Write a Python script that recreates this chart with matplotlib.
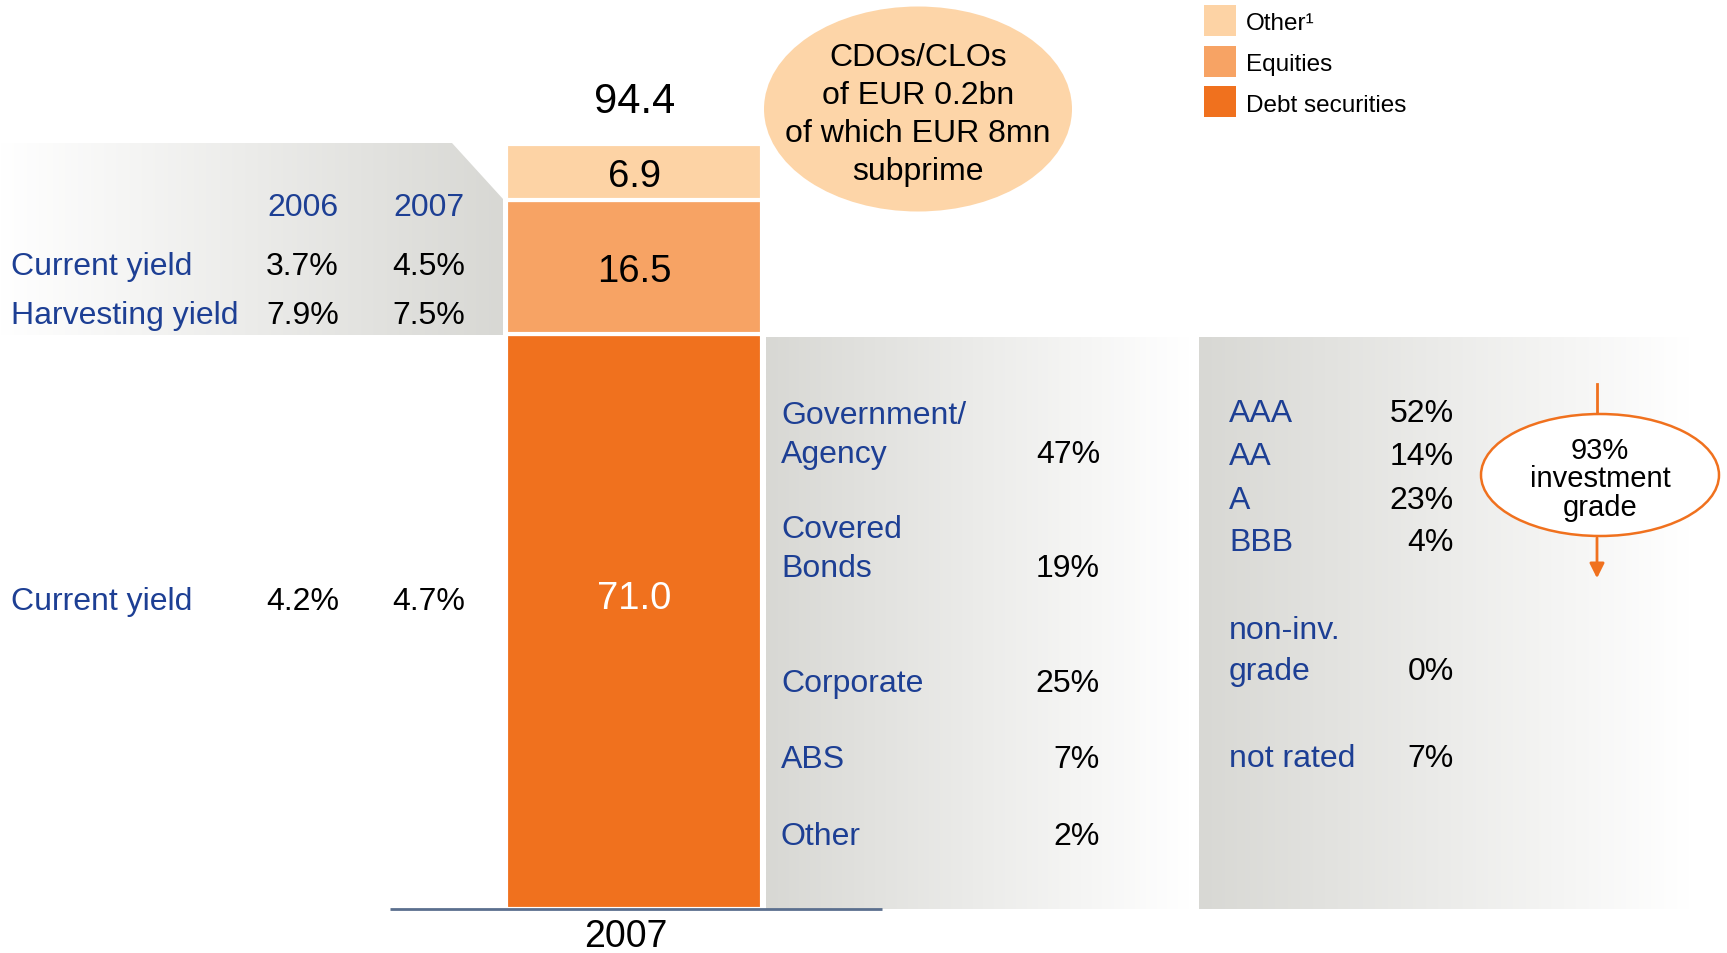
import numpy as np
import matplotlib.pyplot as plt
from matplotlib.patches import Ellipse, Polygon, Rectangle
from matplotlib.colors import LinearSegmentedColormap

plt.rcParams['font.family'] = ['Liberation Sans', 'DejaVu Sans']

# --- data ---
segment_names = ['Debt securities', 'Equities', 'Other¹']
segment_values = [71.0, 16.5, 6.9]
segment_colors = ['#f0711e', '#f7a364', '#fdd3a5']
bar_year = '2007'

yield_years = ['2006', '2007']
yield_rows = ['Current yield', 'Harvesting yield']
yield_values = [[3.7, 4.5], [7.9, 7.5]]
debt_yield_label = 'Current yield'
debt_yield = [4.2, 4.7]

debt_types = ['Government/\nAgency', 'Covered\nBonds', 'Corporate', 'ABS', 'Other']
debt_shares = [47, 19, 25, 7, 2]

ratings = ['AAA', 'AA', 'A', 'BBB', 'non-inv.\ngrade', 'not rated']
rating_shares = [52, 14, 23, 4, 0, 7]
investment_grade = 93

cdo_note = ['CDOs/CLOs', 'of EUR 0.2bn', 'of which EUR 8mn', 'subprime']

# --- layout ---
W, H = 1727, 954
PX = 8.1          # pixels per EUR bn on the bar
BASE = 910        # pixel row of the bar's zero
DY = 3.5          # matplotlib centres on the ink box incl. descent; nudge down
BLUE = '#1d3f94'
ORANGE = '#f0711e'
GRAY = '#d8d8d4'

fig = plt.figure(figsize=(W / 100, H / 100), dpi=100)
lay = fig.add_axes([0, 0, 1, 1])
lay.set_axis_off()

fade_in = LinearSegmentedColormap.from_list('fade_in', ['#ffffff', GRAY])
fade_out = LinearSegmentedColormap.from_list('fade_out', [GRAY, '#ffffff'])
grad = np.linspace(0, 1, 256).reshape(1, -1)

# left yield panel with chamfered corner
left_poly = Polygon([(0, 144), (452, 144), (503, 200), (503, 336), (0, 336)],
                    closed=True, transform=lay.transData, facecolor='none', edgecolor='none')
im = lay.imshow(grad, cmap=fade_in, extent=[0, 503, 336, 144], aspect='auto', zorder=0)
im.set_clip_path(left_poly)
# debt breakdown and rating panels
lay.imshow(grad, cmap=fade_out, extent=[766, 1190, 910, 338], aspect='auto', zorder=0)
lay.imshow(grad, cmap=fade_out, extent=[1199, 1690, 910, 338], aspect='auto', zorder=0)

lay.set_xlim(0, W)
lay.set_ylim(H, 0)

fs = 23
# yield table (top)
for j, yr in enumerate(yield_years):
    lay.text([339, 465][j], 204 + DY, yr, color=BLUE, fontsize=fs, ha='right', va='center')
for i, row in enumerate(yield_rows):
    y = [264, 313][i] + DY
    lay.text(11, y, row, color=BLUE, fontsize=fs, ha='left', va='center')
    for j, v in enumerate(yield_values[i]):
        lay.text([339, 465][j], y, f'{v:.1f}%', color='black', fontsize=fs, ha='right', va='center')
# debt yield
lay.text(11, 599 + DY, debt_yield_label, color=BLUE, fontsize=fs, ha='left', va='center')
for j, v in enumerate(debt_yield):
    lay.text([339, 465][j], 599 + DY, f'{v:.1f}%', color='black', fontsize=fs, ha='right', va='center')

# debt securities breakdown
debt_y = [452, 566, 681, 757, 834]
for name, share, y in zip(debt_types, debt_shares, debt_y):
    n = name.count('\n')
    lay.text(781, y + DY - 20 * n, name, color=BLUE, fontsize=fs, ha='left', va='center',
             linespacing=1.42)
    lay.text(1100, y + DY, f'{share}%', color='black', fontsize=fs, ha='right', va='center')

# rating breakdown
rating_y = [411, 454, 498, 540, 669, 756]
for name, share, y in zip(ratings, rating_shares, rating_y):
    n = name.count('\n')
    lay.text(1229, y + DY - 21 * n, name, color=BLUE, fontsize=fs, ha='left', va='center',
             linespacing=1.45)
    lay.text(1454, y + DY, f'{share}%', color='black', fontsize=fs, ha='right', va='center')

# investment grade bubble with arrow
lay.plot([1597, 1597], [385, 416], color=ORANGE, lw=2, zorder=2)
lay.annotate('', xy=(1597, 582), xytext=(1597, 536),
             arrowprops=dict(arrowstyle='-|>', color=ORANGE, lw=2, mutation_scale=22), zorder=2)
lay.add_patch(Ellipse((1600, 476), 238, 122, facecolor='white', edgecolor=ORANGE, lw=1.8, zorder=3))
lay.text(1600, 476 + DY, f'{investment_grade}%\ninvestment\ngrade', fontsize=21, ha='center',
         va='center', linespacing=1.0, zorder=4)

# CDO note bubble
lay.add_patch(Ellipse((918, 110), 308, 205, facecolor='#fdd5a8', edgecolor='none', zorder=1))
for k, line in enumerate(cdo_note):
    lay.text(918, 54 + DY + 38.3 * k, line, fontsize=fs, ha='center', va='center', zorder=2)

# legend
for k, idx in enumerate([2, 1, 0]):
    y0 = 6 + 40.5 * k
    lay.add_patch(Rectangle((1204, y0), 32, 31, facecolor=segment_colors[idx], edgecolor='none'))
    lay.text(1246, y0 + 16 + 2.5, segment_names[idx], fontsize=17.5, ha='left', va='center')

# --- stacked bar on its own value scale ---
bax = fig.add_axes([0, 0, 1, 1])
bax.set_axis_off()
bax.patch.set_alpha(0)
bax.set_xlim(0, W)
bax.set_ylim(-(H - BASE) / PX, BASE / PX)

bottoms = np.concatenate([[0], np.cumsum(segment_values)[:-1]])
bars = bax.bar([634.5] * len(segment_values), segment_values, width=256, bottom=bottoms,
               color=segment_colors, edgecolor='white', linewidth=3)
label_colors = ['white', 'black', 'black']
label_shift = [3.3, 0, 0]
dyu = DY / PX
for b0, v, c, s in zip(bottoms, segment_values, label_colors, label_shift):
    bax.text(634.5, b0 + v / 2 + s - dyu, f'{v:.1f}', color=c, fontsize=27.5, ha='center', va='center')
total = sum(segment_values)
bax.text(634.5, total + 5.8 - dyu, f'{total:.1f}', fontsize=30, ha='center', va='center')
bax.hlines(0, 390, 882, color='#5b6f8e', lw=2, zorder=3)
bax.text(626, -24 / PX - dyu, bar_year, fontsize=27, ha='center', va='center')

fig.savefig('out.png', dpi=100)
